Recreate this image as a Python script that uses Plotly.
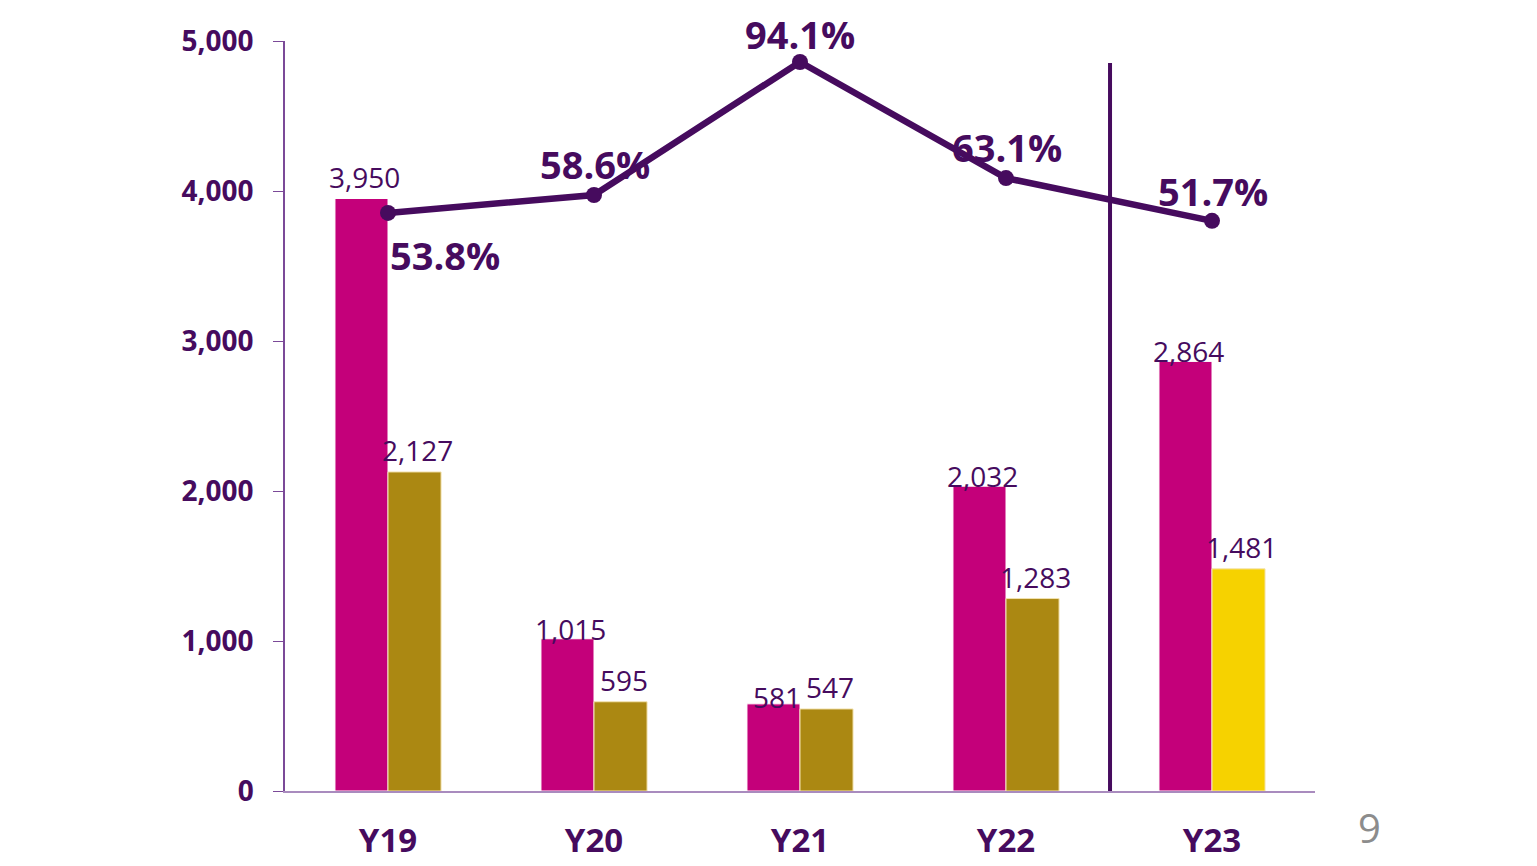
import plotly.graph_objects as go

years = ["Y19", "Y20", "Y21", "Y22", "Y23"]
series_a = [3950, 1015, 581, 2032, 2864]
series_b = [2127, 595, 547, 1283, 1481]
ratio_pct = [53.8, 58.6, 94.1, 63.1, 51.7]

PURPLE = "#460B5E"
MAGENTA = "#C4007A"
GOLD = "#AB8812"
YELLOW = "#F6D200"

# label offsets (px): percentage labels relative to each point
pct_dx = [57, 1, 0, 1, 1]
pct_dy = [-42, 31, 28, 31, 30]
# bar value labels: horizontal shift per series, lift above bar top per bar
bar_dx = [-23.5, 29.5]
lift_a = [22, 10, 7, 10, 10]
lift_b = [22, 22, 22, 22, 22]

fig = go.Figure()

fig.add_trace(go.Bar(
    x=years, y=series_a, name="A",
    marker=dict(color=MAGENTA, line=dict(color="white", width=1)),
))
fig.add_trace(go.Bar(
    x=years, y=series_b, name="B",
    marker=dict(color=[GOLD] * 4 + [YELLOW], line=dict(color="#F3E3B0", width=1)),
))
fig.add_trace(go.Scatter(
    x=years, y=ratio_pct, yaxis="y2", mode="lines+markers",
    line=dict(color=PURPLE, width=6.5),
    marker=dict(color=PURPLE, size=16),
    cliponaxis=False,
))

for vals, dx, lifts in [(series_a, bar_dx[0], lift_a), (series_b, bar_dx[1], lift_b)]:
    for yr, v, dy in zip(years, vals, lifts):
        fig.add_annotation(
            x=yr, y=v, xref="x", yref="y", text=f"{v:,}", showarrow=False,
            xshift=dx, yshift=dy,
            font=dict(family="Open Sans", size=28, color=PURPLE),
        )

for yr, p, dx, dy in zip(years, ratio_pct, pct_dx, pct_dy):
    fig.add_annotation(
        x=yr, y=p, xref="x", yref="y2", text=f"{p}%", showarrow=False,
        xshift=dx, yshift=dy,
        font=dict(family="Open Sans", size=38, color=PURPLE, weight="bold"),
    )

# divider before the last year
fig.add_shape(type="line", xref="paper", yref="y", x0=0.801, x1=0.801, y0=0, y1=4853,
              line=dict(color=PURPLE, width=4))
# page number
fig.add_annotation(x=1.053, y=-0.049, xref="paper", yref="paper", text="9", showarrow=False,
                   xanchor="center", yanchor="middle",
                   font=dict(family="Open Sans", size=40, color="#8C8C8C"))

fig.update_layout(
    width=1529, height=858,
    margin=dict(l=277, r=222, t=33, b=75),
    paper_bgcolor="white", plot_bgcolor="white",
    showlegend=False,
    barmode="group", bargap=0.485, bargroupgap=0,
    xaxis=dict(
        showline=True, linecolor="#A98BBE", linewidth=2,
        showgrid=False, ticks="", ticklabelstandoff=19, automargin=False,
        tickfont=dict(family="Open Sans", size=33, color=PURPLE, weight="bold"),
    ),
    yaxis=dict(
        range=[0, 5000], tickvals=[0, 1000, 2000, 3000, 4000, 5000], tickformat=",",
        showline=True, linecolor="#7B4A98", linewidth=1.5,
        ticks="outside", ticklen=10, tickcolor="#7B4A98",
        showgrid=False, zeroline=False, ticklabelstandoff=14, automargin=False,
        tickfont=dict(family="Open Sans", size=28, color=PURPLE, weight="bold"),
    ),
    yaxis2=dict(range=[-100.5, 99.7], overlaying="y", side="right", visible=False),
)

fig.write_html("out.html")
